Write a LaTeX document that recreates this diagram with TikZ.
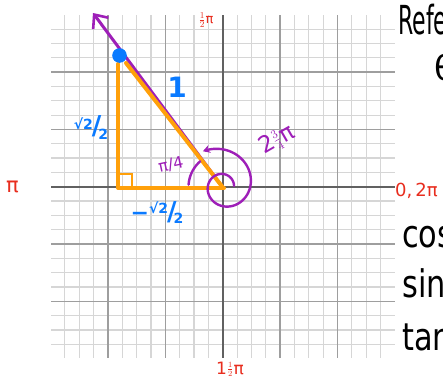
\documentclass[tikz,border=0pt]{standalone}
\usepackage{fontspec}
\setmainfont{DejaVu Sans}
\usetikzlibrary{arrows.meta}
\definecolor{pur}{RGB}{158,31,184}
\definecolor{org}{RGB}{255,160,10}
\definecolor{blu}{RGB}{10,122,255}
\definecolor{rd}{RGB}{232,45,30}
\begin{document}
\begin{tikzpicture}[x=1pt,y=-1pt,
  minor/.style={draw=black!16, line width=1.1pt},
  major/.style={draw=black!38, line width=1.3pt},
  axisline/.style={draw=black!62, line width=1.8pt},
  orangeline/.style={draw=org, line width=4pt, line cap=round, line join=round},
  purpline/.style={draw=pur, line width=3pt, line cap=round},
  purparc/.style={draw=pur, line width=2.4pt, line cap=round},
  redlbl/.style={text=rd, inner sep=0pt},
  bluelbl/.style={text=blu, inner sep=0pt, font=\bfseries},
  purlbl/.style={text=pur, inner sep=0pt},
  blacklbl/.style={text=black, inner sep=0pt, anchor=base west},
]
\clip (0,0) rectangle (443,380);
\fill[white] (0,0) rectangle (443,380);
% grid
\foreach \i in {-11,-10,-9,-7,-6,-5,-3,-2,-1,1,2,3,5,6,7,9,10,11}{
  \draw[minor] (222.7+14.35*\i,15) -- (222.7+14.35*\i,358);
  \draw[minor] (51,186.7+14.33*\i) -- (395,186.7+14.33*\i);
}
\foreach \i in {-8,-4,4,8}{
  \draw[major] (222.7+14.35*\i,15) -- (222.7+14.35*\i,358);
  \draw[major] (51,186.7+14.33*\i) -- (395,186.7+14.33*\i);
}
\draw[axisline] (222.7,15) -- (222.7,358);
\draw[axisline] (51,186.7) -- (395,186.7);

% key points
\coordinate (O) at (222.5,187);
\coordinate (T) at (93,13);
\coordinate (P) at (119.5,55.5);
\coordinate (Ph) at (126,63);
\coordinate (Vt) at (118,64);
\coordinate (C) at (118,188);
\coordinate (Oe) at (224,188);
\coordinate (Sq1) at (132,188);
\coordinate (Sq2) at (132,174);
\coordinate (Sq3) at (118,174);

% purple terminal ray
\draw[purpline, -{Straight Barb[length=11pt,width=19pt,line width=2.6pt]}] (O) -- (T);

% orange triangle
\draw[orangeline] (Vt) -- (C) -- (Oe);
\draw[orangeline] (Ph) -- (O);
\draw[draw=org, line width=2pt] (Sq1) -- (Sq2) -- (Sq3);

% blue point
\fill[blu] (P) circle (7.3);

% reference angle arc
\draw[purparc] plot[domain=176:131, samples=30, variable=\t]
  ({222.5+34*cos(\t)},{187-34*sin(\t)});

% spiral 2 3/4 pi
\draw[purparc, -{Stealth[length=7pt,width=8pt]}] plot[domain=0:480, samples=160, variable=\t]
  ({223+(11+4.1*(\t/180)^2)*cos(\t)},{186-(11+4.1*(\t/180)^2)*sin(\t)});

% red labels
\node[redlbl] (top) at (206,20) {\fontsize{13}{13}\selectfont$\frac{1}{2}$π};
\node[redlbl, anchor=base west] (left) at (6,192) {\fontsize{21}{21}\selectfont π};
\node[redlbl, anchor=base west] (right) at (395,196) {\fontsize{18}{18}\selectfont 0,\,2π};
\node[redlbl, anchor=base west] (bot) at (216,374) {\fontsize{17}{17}\selectfont 1\raisebox{2pt}{$\scriptstyle\frac{1}{2}$}π};

% blue labels
\node[bluelbl] (one) at (177,87) {\fontsize{28}{28}\selectfont 1};
\node[bluelbl] (vert) at (91,128) {\fontsize{14}{14}\selectfont\raisebox{5pt}{√2}\kern-1pt{\fontsize{26}{26}\selectfont /}\kern-3pt\raisebox{-5pt}{2}};
\node[bluelbl] (horz) at (157,213) {\fontsize{14}{14}\selectfont{\fontsize{22}{22}\selectfont −}\raisebox{7pt}{√2}\kern-1pt{\fontsize{26}{26}\selectfont /}\kern-3pt\raisebox{-3pt}{2}};

% purple labels
\node[purlbl, rotate=12] (quarter) at (171,165) {\fontsize{16}{16}\selectfont π/4};
\node[purlbl, rotate=30] (turns) at (277,140) {\fontsize{23}{23}\selectfont 2\raisebox{2pt}{$\scriptstyle\frac{3}{4}$}π};

% black text at right edge
\node[blacklbl] (refe) at (398,34) {\fontsize{40}{40}\selectfont\scalebox{0.55}[1]{Reference}};
\node[blacklbl] (theta) at (434,80) {\fontsize{34}{34}\selectfont θ};
\node[blacklbl] (cosw) at (402,247) {\fontsize{38}{38}\selectfont\scalebox{0.8}[1]{cos}};
\node[blacklbl] (sinw) at (402,297) {\fontsize{38}{38}\selectfont\scalebox{0.8}[1]{sin}};
\node[blacklbl] (tanw) at (402,350) {\fontsize{38}{38}\selectfont\scalebox{0.8}[1]{tan}};
\end{tikzpicture}
\end{document}
